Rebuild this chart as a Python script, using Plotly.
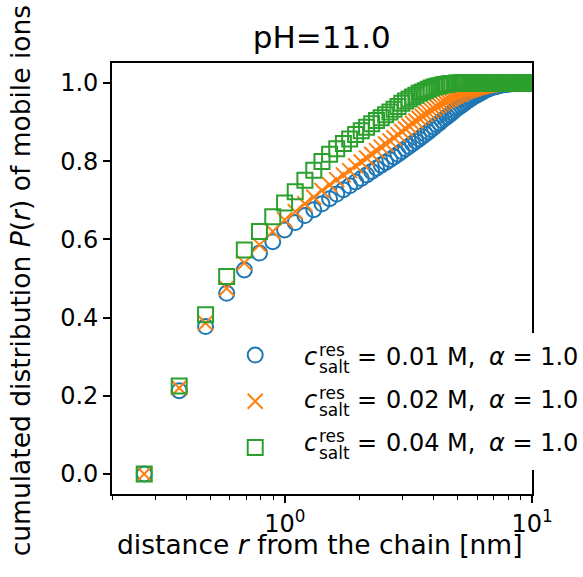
import plotly.graph_objects as go

# distance r from the chain [nm]
r_nm = [0.270, 0.374, 0.478, 0.582, 0.686, 0.790, 0.894, 0.998, 1.102, 1.206,
        1.310, 1.414, 1.518, 1.622, 1.726, 1.830, 1.934, 2.038, 2.142, 2.246,
        2.350, 2.454, 2.558, 2.662, 2.766, 2.870, 2.974, 3.078, 3.182, 3.286,
        3.390, 3.494, 3.598, 3.702, 3.806, 3.910, 4.014, 4.118, 4.222, 4.326,
        4.430, 4.534, 4.638, 4.742, 4.846, 4.950, 5.054, 5.158, 5.262, 5.366,
        5.470, 5.574, 5.678, 5.782, 5.886, 5.990, 6.094, 6.198, 6.302, 6.406,
        6.510, 6.614, 6.718, 6.822, 6.926, 7.030, 7.134, 7.238, 7.342, 7.446,
        7.550, 7.654, 7.758, 7.862, 7.966, 8.070, 8.174, 8.278, 8.382, 8.486,
        8.590, 8.694, 8.798, 8.902, 9.006, 9.110, 9.214, 9.318, 9.422, 9.526,
        9.630, 9.734, 9.838, 9.942, 10.046]

# cumulated distribution P(r), c_salt = 0.01 M
p_001 = [0.000, 0.213, 0.377, 0.462, 0.522, 0.565, 0.594, 0.624, 0.643, 0.661,
         0.676, 0.691, 0.704, 0.716, 0.727, 0.737, 0.747, 0.756, 0.765, 0.774,
         0.782, 0.790, 0.797, 0.804, 0.811, 0.818, 0.825, 0.832, 0.838, 0.845,
         0.851, 0.857, 0.863, 0.869, 0.875, 0.881, 0.887, 0.893, 0.898, 0.904,
         0.909, 0.914, 0.919, 0.924, 0.929, 0.934, 0.938, 0.942, 0.946, 0.950,
         0.954, 0.957, 0.961, 0.964, 0.967, 0.970, 0.972, 0.975, 0.977, 0.980,
         0.982, 0.984, 0.986, 0.987, 0.989, 0.990, 0.991, 0.992, 0.993, 0.994,
         0.995, 0.996, 0.996, 0.997, 0.997, 0.998, 0.998, 0.998, 0.999, 0.999,
         1.000, 1.000, 1.000, 1.000, 1.000, 1.000, 1.000, 1.000, 1.000, 1.000,
         1.000, 1.000, 1.000, 1.000, 1.000]

# c_salt = 0.02 M
p_002 = [0.000, 0.220, 0.386, 0.475, 0.540, 0.586, 0.620, 0.650, 0.671, 0.691,
         0.708, 0.725, 0.740, 0.753, 0.765, 0.776, 0.788, 0.798, 0.808, 0.818,
         0.827, 0.836, 0.844, 0.852, 0.860, 0.868, 0.876, 0.883, 0.890, 0.897,
         0.903, 0.910, 0.915, 0.920, 0.925, 0.930, 0.935, 0.940, 0.944, 0.948,
         0.952, 0.956, 0.959, 0.962, 0.965, 0.968, 0.971, 0.973, 0.976, 0.978,
         0.980, 0.982, 0.984, 0.985, 0.987, 0.989, 0.990, 0.991, 0.992, 0.993,
         0.994, 0.995, 0.995, 0.996, 0.997, 0.997, 0.998, 0.998, 0.998, 0.999,
         0.999, 1.000, 1.000, 1.000, 1.000, 1.000, 1.000, 1.000, 1.000, 1.000,
         1.000, 1.000, 1.000, 1.000, 1.000, 1.000, 1.000, 1.000, 1.000, 1.000,
         1.000, 1.000, 1.000, 1.000, 1.000]

# c_salt = 0.04 M
p_004 = [0.000, 0.225, 0.407, 0.505, 0.573, 0.620, 0.658, 0.693, 0.722, 0.751,
         0.777, 0.799, 0.818, 0.832, 0.845, 0.857, 0.868, 0.878, 0.887, 0.896,
         0.904, 0.911, 0.919, 0.926, 0.933, 0.940, 0.948, 0.954, 0.959, 0.964,
         0.969, 0.974, 0.977, 0.980, 0.984, 0.987, 0.990, 0.992, 0.993, 0.995,
         0.996, 0.997, 0.998, 0.999, 0.999, 1.000, 1.000, 1.000, 1.000, 1.000,
         1.000, 1.000, 1.000, 1.000, 1.000, 1.000, 1.000, 1.000, 1.000, 1.000,
         1.000, 1.000, 1.000, 1.000, 1.000, 1.000, 1.000, 1.000, 1.000, 1.000,
         1.000, 1.000, 1.000, 1.000, 1.000, 1.000, 1.000, 1.000, 1.000, 1.000,
         1.000, 1.000, 1.000, 1.000, 1.000, 1.000, 1.000, 1.000, 1.000, 1.000,
         1.000, 1.000, 1.000, 1.000, 1.000]

salt_labels = ["0.01", "0.02", "0.04"]
series = [p_001, p_002, p_004]
colors = ["#1f77b4", "#ff7f0e", "#2ca02c"]
symbols = ["circle-open", "x-thin-open", "square-open"]
x_ticks = [1, 10]
x_ticktext = ["10<sup>0</sup>", "10<sup>1</sup>"]
x_minor = [0.2, 0.3, 0.4, 0.5, 0.6, 0.7, 0.8, 0.9, 2, 3, 4, 5, 6, 7, 8, 9]
y_ticks = [0.0, 0.2, 0.4, 0.6, 0.8, 1.0]
y_ticktext = ["0.0", "0.2", "0.4", "0.6", "0.8", "1.0"]

FONT = "DejaVu Sans"
W, H = 583, 577
L, R, T, B = 111.7, 51, 63, 83
Y0 = H - B  # pixel row of paper y=0

fig = go.Figure()
for i, (ys, col, sym) in enumerate(zip(series, colors, symbols)):
    fig.add_trace(go.Scatter(
        x=r_nm, y=ys, mode="markers",
        name="\u00a0" * 38,   # legend entry width only; label drawn below
        legendgroup=str(i),
        marker=dict(symbol=sym, size=15, color=col,
                    line=dict(color=col, width=2)),
        cliponaxis=True,
    ))


def pix_ann(text, px, py, size, xanchor="left", angle=0):
    return dict(text=text, x=0, y=0, xref="paper", yref="paper",
                xanchor=xanchor, yanchor="middle", showarrow=False,
                xshift=px - L, yshift=Y0 - py, textangle=angle,
                font=dict(family=FONT, size=size, color="black"))


# legend labels with stacked super/subscript
row_y = [357, 400, 443]
ann = []
for lab, py in zip(salt_labels, row_y):
    ann.append(pix_ann("<i>c</i>", 302, py, 24))
    ann.append(pix_ann("res", 317, py - 7, 17))
    ann.append(pix_ann("salt", 317, py + 10, 17))
    ann.append(pix_ann("=", 355, py, 24))
    ann.append(pix_ann(lab + " M,", 384, py, 24))
    ann.append(pix_ann("<i>\u03b1</i> = 1.0", 487, py, 24))

# axis titles
ann.append(pix_ann("distance <i>r</i> from the chain [nm]", 320, 544, 26.5,
                   xanchor="center"))
ann.append(pix_ann("cumulated distribution <i>P</i>(<i>r</i>) of mobile ions",
                   20, 281, 26.5, xanchor="center", angle=-90))

fig.update_layout(
    width=W, height=H,
    margin=dict(l=L, r=R, t=T, b=B, autoexpand=False),
    paper_bgcolor="white", plot_bgcolor="white",
    font=dict(family=FONT, size=24, color="black"),
    title=dict(text="pH=11.0", x=(L + (W - R)) / 2 / W, xanchor="center",
               y=1 - 37 / H, yanchor="middle",
               font=dict(family=FONT, size=31, color="black")),
    showlegend=True,
    legend=dict(x=(235 - L) / (W - L - R), y=(Y0 - 333) / (H - T - B),
                xanchor="left", yanchor="top",
                bgcolor="white", borderwidth=0,
                font=dict(family=FONT, size=24, color="black"),
                traceorder="grouped", tracegroupgap=12,
                itemsizing="trace"),
    annotations=ann,
)

fig.update_xaxes(
    type="log", range=[-0.69897, 1.0],
    tickvals=x_ticks, ticktext=x_ticktext,
    ticks="outside", ticklen=7, tickwidth=1.6, tickcolor="black",
    minor=dict(tickvals=x_minor, ticks="outside", ticklen=4, tickwidth=1.2,
               tickcolor="black", showgrid=False),
    showline=True, linecolor="black", linewidth=1.8, mirror=True,
    showgrid=False, zeroline=False,
    tickfont=dict(family=FONT, size=24, color="black"),
)
fig.update_yaxes(
    range=[-0.0512, 1.0512],
    tickvals=y_ticks, ticktext=y_ticktext,
    ticks="outside", ticklen=7, tickwidth=1.6, tickcolor="black",
    showline=True, linecolor="black", linewidth=1.8, mirror=True,
    showgrid=False, zeroline=False,
    tickfont=dict(family=FONT, size=24, color="black"),
)

fig.write_html("out.html")
